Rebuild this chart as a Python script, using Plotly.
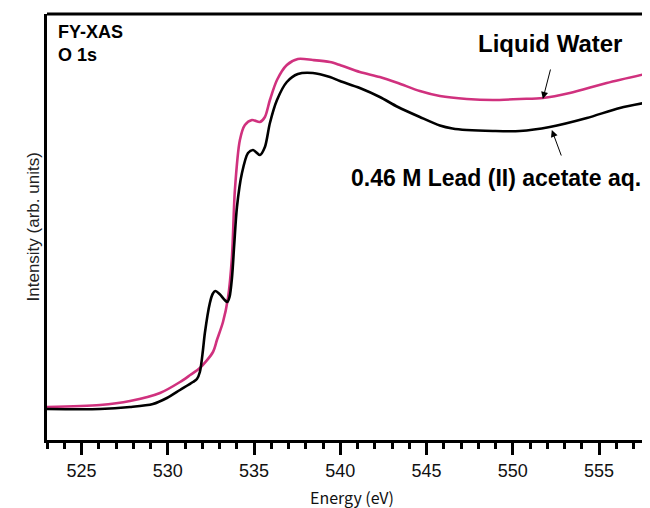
import plotly.graph_objects as go

# Liquid water (pink) spectrum
water_energy = [523.00, 526.07, 527.81, 529.55, 530.71, 531.30, 531.86, 532.62, 532.85, 533.20,
                533.49, 533.72, 533.89, 534.18, 534.47, 534.88, 535.34, 535.63, 535.92, 536.33,
                536.90, 537.54, 538.41, 539.40, 539.98, 541.13, 542.29, 543.34, 544.61, 545.77,
                547.33, 548.84, 550.40, 551.74, 553.30, 555.44, 557.94]
water_intensity = [0.33, 0.35, 0.39, 0.47, 0.58, 0.65, 0.72, 0.88, 1.00, 1.18,
                   1.42, 1.83, 2.50, 3.00, 3.15, 3.20, 3.18, 3.23, 3.40, 3.60,
                   3.75, 3.81, 3.80, 3.78, 3.75, 3.68, 3.63, 3.57, 3.49, 3.44,
                   3.41, 3.40, 3.41, 3.42, 3.47, 3.57, 3.67]

# 0.46 M Lead(II) acetate aq. (black) spectrum
lead_energy = [523.00, 526.07, 527.81, 529.14, 529.95, 530.71, 531.46, 531.69, 531.86, 532.04,
               532.15, 532.44, 532.60, 532.75, 533.00, 533.30, 533.45, 533.58, 533.72, 533.85,
               534.01, 534.30, 534.65, 534.94, 535.34, 535.63, 535.92, 536.33, 536.90, 537.54,
               538.41, 539.40, 539.98, 541.13, 542.29, 543.34, 544.61, 545.77, 546.50, 547.33,
               548.84, 550.40, 552.14, 554.29, 556.20, 557.94]
lead_intensity = [0.31, 0.31, 0.33, 0.36, 0.42, 0.50, 0.58, 0.61, 0.68, 0.90,
                  1.07, 1.37, 1.46, 1.49, 1.46, 1.40, 1.38, 1.43, 1.62, 1.95,
                  2.33, 2.67, 2.87, 2.90, 2.85, 2.93, 3.17, 3.40, 3.58, 3.66,
                  3.67, 3.63, 3.59, 3.52, 3.43, 3.33, 3.23, 3.145, 3.115, 3.10,
                  3.09, 3.09, 3.13, 3.22, 3.32, 3.38]

x_ticks = [525, 530, 535, 540, 545, 550, 555]

PINK = "#D0317E"
TICKFONT = "Liberation Sans, Arial, sans-serif"

fig = go.Figure()
fig.add_trace(go.Scatter(x=water_energy, y=water_intensity, mode="lines",
                         line=dict(color=PINK, width=2.6, shape="spline", smoothing=0.8),
                         name="Liquid Water", showlegend=False))
fig.add_trace(go.Scatter(x=lead_energy, y=lead_intensity, mode="lines",
                         line=dict(color="black", width=2.6, shape="spline", smoothing=0.8),
                         name="0.46 M Lead (II) acetate aq.", showlegend=False))

fig.update_layout(
    width=642, height=500,
    margin=dict(l=39, r=0, t=6, b=68),
    plot_bgcolor="white", paper_bgcolor="white",
    xaxis=dict(range=[523.0, 557.95], showgrid=False, zeroline=False,
               showline=True, linecolor="black", linewidth=3,
               ticks="outside", ticklen=12, tickwidth=3, tickcolor="black",
               tickvals=x_ticks, ticktext=[str(v) for v in x_ticks],
               tickfont=dict(family=TICKFONT, size=18, color="#111"),
               minor=dict(dtick=1, ticks="outside", ticklen=6, tickwidth=3, tickcolor="black")),
    yaxis=dict(range=[0, 4.26], showgrid=False, zeroline=False,
               showline=True, linecolor="black", linewidth=3,
               showticklabels=False, ticks=""),
)

# top border
fig.add_shape(type="line", xref="paper", yref="paper", x0=0, x1=1, y0=1, y1=1,
              line=dict(color="black", width=3))

fig.add_annotation(text="Intensity (arb. units)", xref="paper", yref="paper",
                   x=-0.0415, y=0.5, textangle=-90, showarrow=False,
                   font=dict(family=TICKFONT, size=17, color="#222"))
fig.add_annotation(text="Energy (eV)", xref="paper", yref="paper",
                   x=0.505, y=-0.133, showarrow=False, yanchor="middle",
                   font=dict(family="Noto Sans CJK JP, sans-serif", size=16, color="#111"))

fig.add_annotation(text="<b>FY-XAS</b>", x=523.55, y=4.08, xanchor="left", yanchor="middle",
                   showarrow=False, font=dict(family=TICKFONT, size=18, color="black"))
fig.add_annotation(text="<b>O 1s</b>", x=523.55, y=3.85, xanchor="left", yanchor="middle",
                   showarrow=False, font=dict(family=TICKFONT, size=18, color="black"))

fig.add_annotation(text="<b>Liquid Water</b>", x=552.14, y=3.97, xanchor="center", yanchor="middle",
                   showarrow=False, font=dict(family=TICKFONT, size=24, color="black"))
fig.add_annotation(text="<b>0.46 M Lead (II) acetate aq.</b>", x=557.55, y=2.62,
                   xanchor="right", yanchor="middle",
                   showarrow=False, font=dict(family=TICKFONT, size=23, color="black"))

# arrows
fig.add_annotation(x=551.74, y=3.41, ax=8, ay=-31, text="", showarrow=True,
                   arrowhead=2, arrowsize=1.4, arrowwidth=1, arrowcolor="black")
fig.add_annotation(x=552.26, y=3.10, ax=10, ay=27, text="", showarrow=True,
                   arrowhead=2, arrowsize=1.4, arrowwidth=1, arrowcolor="black")

fig.write_html("out.html")
